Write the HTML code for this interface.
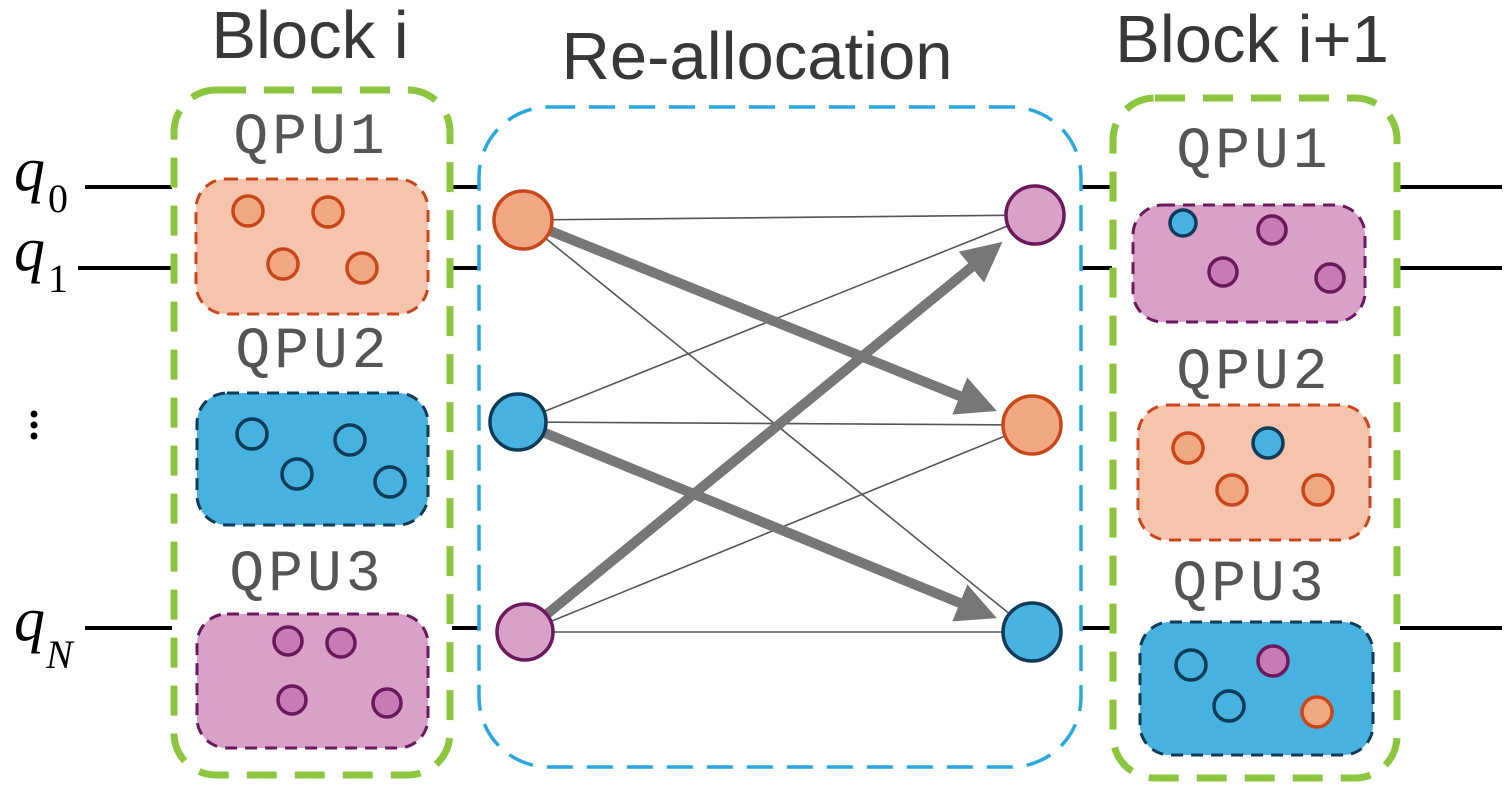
<!DOCTYPE html>
<html><head><style>body{margin:0;background:#fff}</style></head><body>
<svg width="1508" height="791" viewBox="0 0 1508 791" xmlns="http://www.w3.org/2000/svg">
<defs>
<marker id="ah" markerWidth="4" markerHeight="4" refX="2.4" refY="2" orient="auto" markerUnits="strokeWidth">
<path d="M0,0 L4,2 L0,4 z" fill="#777"/></marker>
</defs>
<g stroke="#000" stroke-width="4">
<line x1="85" y1="187" x2="172" y2="187"/><line x1="78" y1="268" x2="172" y2="268"/><line x1="85" y1="628" x2="172" y2="628"/>
<line x1="452" y1="187" x2="480" y2="187"/><line x1="452" y1="268" x2="480" y2="268"/><line x1="452" y1="628" x2="480" y2="628"/>
<line x1="1080" y1="187" x2="1112" y2="187"/><line x1="1080" y1="268" x2="1112" y2="268"/><line x1="1080" y1="628" x2="1112" y2="628"/>
<line x1="1400" y1="187" x2="1502" y2="187"/><line x1="1400" y1="268" x2="1502" y2="268"/><line x1="1400" y1="628" x2="1502" y2="628"/>
</g>
<g font-family="Liberation Serif, serif" font-style="italic" fill="#000">
<text x="14" y="190" font-size="62">q</text><text x="48" y="212" font-size="40" font-style="normal">0</text>
<text x="14" y="270" font-size="62">q</text><text x="48" y="292" font-size="40" font-style="normal">1</text>
<text x="14" y="640" font-size="62">q</text><text x="46" y="668" font-size="40">N</text>
</g>
<g fill="#000"><circle cx="34" cy="414" r="3.5"/><circle cx="34" cy="425" r="3.5"/><circle cx="34" cy="436" r="3.5"/></g>
<g font-family="Liberation Sans, sans-serif" font-size="67" fill="#383838" text-anchor="middle">
<text x="310" y="58">Block i</text><text x="757" y="79">Re-allocation</text><text x="1252" y="62">Block i+1</text>
</g>
<rect x="174" y="90" width="276" height="685" rx="42" fill="none" stroke="#8cc63f" stroke-width="7" stroke-dasharray="30 18"/>
<rect x="1113" y="98" width="284" height="680" rx="42" fill="none" stroke="#8cc63f" stroke-width="7" stroke-dasharray="30 18"/>
<rect x="479" y="107" width="602" height="660" rx="70" fill="none" stroke="#29a8e0" stroke-width="3.5" stroke-dasharray="26 14"/>
<g font-family="Liberation Mono, monospace" font-size="58" fill="#555" text-anchor="middle" letter-spacing="4">
<text x="311" y="153">QPU1</text><text x="313" y="367">QPU2</text><text x="307" y="590">QPU3</text>
<text x="1254" y="167">QPU1</text><text x="1254" y="388">QPU2</text><text x="1250" y="600">QPU3</text>
</g>
<g stroke-width="3" stroke-dasharray="12 8">
<rect x="196" y="179" width="232" height="135" rx="30" fill="#f6c4ad" stroke="#c8471a"/>
<rect x="197" y="393" width="231" height="132" rx="30" fill="#47b1e0" stroke="#0e3b57"/>
<rect x="197" y="614" width="231" height="134" rx="30" fill="#d9a0c8" stroke="#6a1a5c"/>
<rect x="1133" y="205" width="232" height="117" rx="30" fill="#d9a0c8" stroke="#6a1a5c"/>
<rect x="1138" y="405" width="232" height="135" rx="30" fill="#f6c4ad" stroke="#c8471a"/>
<rect x="1140" y="622" width="233" height="133" rx="30" fill="#47b1e0" stroke="#0e3b57"/>
</g>
<g stroke-width="3.5">
<g fill="#f0a882" stroke="#c8471a"><circle cx="248" cy="211" r="15"/><circle cx="328" cy="212" r="15"/><circle cx="283" cy="264" r="15"/><circle cx="362" cy="268" r="15"/>
<circle cx="1188" cy="448" r="15"/><circle cx="1232" cy="490" r="15"/><circle cx="1318" cy="490" r="15"/><circle cx="1317" cy="712" r="15"/></g>
<g fill="#47b1e0" stroke="#0e3b57"><circle cx="252" cy="434" r="15"/><circle cx="350" cy="440" r="15"/><circle cx="297" cy="474" r="15"/><circle cx="390" cy="482" r="15"/>
<circle cx="1183" cy="223" r="13"/><circle cx="1268" cy="443" r="15"/><circle cx="1191" cy="665" r="15"/><circle cx="1229" cy="706" r="15"/></g>
<g fill="#c77bb5" stroke="#6a1a5c"><circle cx="288" cy="641" r="14"/><circle cx="341" cy="643" r="14"/><circle cx="292" cy="700" r="14"/><circle cx="387" cy="703" r="14"/>
<circle cx="1272" cy="230" r="14"/><circle cx="1223" cy="272" r="14"/><circle cx="1330" cy="278" r="14"/><circle cx="1273" cy="661" r="15"/></g>
</g>
<g stroke="#555" stroke-width="1.6">
<line x1="523" y1="220" x2="1035" y2="215"/><line x1="523" y1="220" x2="1032" y2="632"/>
<line x1="518" y1="422" x2="1035" y2="215"/><line x1="518" y1="422" x2="1032" y2="425"/>
<line x1="525" y1="632" x2="1032" y2="425"/><line x1="525" y1="632" x2="1032" y2="632"/>
</g>
<g stroke="#777" stroke-width="10" marker-end="url(#ah)">
<line x1="523" y1="220" x2="982" y2="405"/>
<line x1="518" y1="422" x2="982" y2="612"/>
<line x1="525" y1="632" x2="990" y2="252"/>
</g>
<g stroke-width="3.5">
<circle cx="523" cy="220" r="29" fill="#f0a882" stroke="#c8471a"/>
<circle cx="518" cy="422" r="28" fill="#47b1e0" stroke="#0e3b57"/>
<circle cx="525" cy="632" r="28" fill="#d9a0c8" stroke="#6a1a5c"/>
<circle cx="1035" cy="215" r="29" fill="#d9a0c8" stroke="#6a1a5c"/>
<circle cx="1032" cy="425" r="29" fill="#f0a882" stroke="#c8471a"/>
<circle cx="1032" cy="632" r="29" fill="#47b1e0" stroke="#0e3b57"/>
</g>
</svg>
</body></html>
